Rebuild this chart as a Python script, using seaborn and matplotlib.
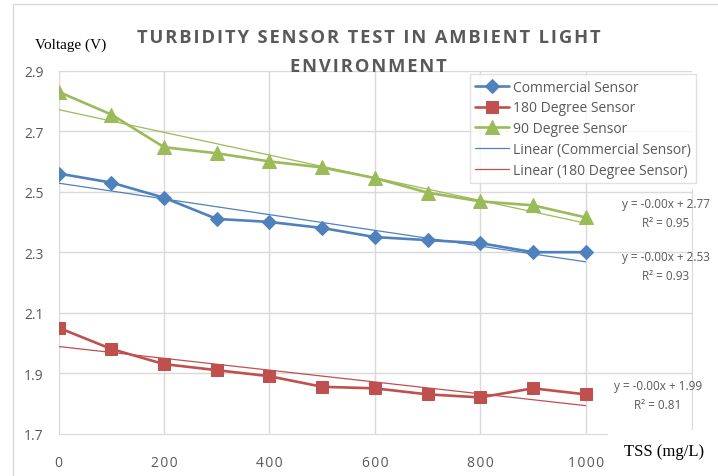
import numpy as np
import pandas as pd
import matplotlib
matplotlib.use("Agg")
import matplotlib.pyplot as plt
import seaborn as sns
from matplotlib.lines import Line2D

# Data
tss = [0, 100, 200, 300, 400, 500, 600, 700, 800, 900, 1000]
commercial = [2.56, 2.53, 2.48, 2.41, 2.40, 2.38, 2.35, 2.34, 2.33, 2.30, 2.30]
deg180 = [2.05, 1.98, 1.93, 1.91, 1.89, 1.855, 1.85, 1.83, 1.82, 1.85, 1.83]
deg90 = [2.83, 2.755, 2.647, 2.627, 2.60, 2.58, 2.545, 2.497, 2.468, 2.455, 2.415]
yticks = [1.7, 1.9, 2.1, 2.3, 2.5, 2.7, 2.9]
xticks = [0, 200, 400, 600, 800, 1000]
eq_texts = ["y = -0.00x + 2.77\nR² = 0.95", "y = -0.00x + 2.53\nR² = 0.93", "y = -0.00x + 1.99\nR² = 0.81"]

blue, red, green = "#4F81BD", "#C0504D", "#9BBB59"
grey_txt = "#595959"
grid_c = "#D9D9D9"

sns.set_style("white")
plt.rcParams['font.family'] = ['Open Sans', 'DejaVu Sans']


def spaced(s, gap="\u200a"):
    # widen letter spacing like the original title
    return gap.join(s)


fig = plt.figure(figsize=(7.18, 4.77), dpi=100)
ax = fig.add_axes([0.0818, 0.0887, 0.882, 0.761])

df = pd.DataFrame({"TSS": tss, "Commercial": commercial, "Deg180": deg180, "Deg90": deg90})

# trendlines first so data lines are drawn over them
for col, c, lab in [("Commercial", blue, "Linear (Commercial Sensor)"),
                    ("Deg180", red, "Linear (180 Degree Sensor)"),
                    ("Deg90", green, None)]:
    m, b = np.polyfit(df["TSS"], df[col], 1)
    ax.plot(df["TSS"], m * df["TSS"] + b, color=c, lw=0.9, label=lab, zorder=3)

sns.lineplot(data=df, x="TSS", y="Commercial", ax=ax, color=blue, marker="D",
             markersize=7, markeredgecolor=blue, lw=1.9, label="Commercial Sensor", zorder=4)
sns.lineplot(data=df, x="TSS", y="Deg180", ax=ax, color=red, marker="s",
             markersize=8.5, markeredgecolor=red, lw=1.9, label="180 Degree Sensor", zorder=4)
sns.lineplot(data=df, x="TSS", y="Deg90", ax=ax, color=green, marker="^",
             markersize=9.5, markeredgecolor=green, lw=1.9, label="90 Degree Sensor", zorder=4)

ax.set_xlim(0, 1202)
ax.set_ylim(1.7, 2.9)
ax.set_xticks(xticks)
ax.set_xticklabels([spaced(str(x)) for x in xticks])
ax.set_yticks(yticks)
ax.set_yticklabels([f"{y:.1f}" for y in yticks])
ax.set_xlabel("")
ax.set_ylabel("")
ax.tick_params(axis="x", length=0, pad=15, labelsize=10, colors=grey_txt)
ax.tick_params(axis="y", length=0, pad=11, labelsize=10, colors=grey_txt)
ax.grid(True, color=grid_c, lw=1)
ax.yaxis.get_gridlines()[0].set_visible(False)

for s in ["top", "left"]:
    ax.spines[s].set_visible(False)
ax.spines["bottom"].set_color(grid_c)
ax.spines["bottom"].set_bounds(0, 1040)
ax.spines["right"].set_color(grid_c)
ax.spines["right"].set_bounds(1.716, 2.51)

# legend
handles, labels = ax.get_legend_handles_labels()
order = ["Commercial Sensor", "180 Degree Sensor", "90 Degree Sensor",
         "Linear (Commercial Sensor)", "Linear (180 Degree Sensor)"]
hmap = dict(zip(labels, handles))
leg = ax.legend([hmap[k] for k in order], order, loc="upper left",
                bbox_to_anchor=(0.638, 1.01), frameon=True, fancybox=False,
                fontsize=10, labelcolor=grey_txt, handlelength=2.4,
                handletextpad=0.3, borderpad=0.4, labelspacing=0.42)
leg.get_frame().set_edgecolor(grid_c)
leg.get_frame().set_linewidth(1)
leg.set_zorder(6)

# trendline equations
for (px, py), t in zip([(666, 214), (666, 267), (658, 396)], eq_texts):
    fig.text(px / 718, 1 - py / 477, t, ha="center", va="center", fontsize=8.5,
             color=grey_txt, linespacing=1.55)

# titles and axis labels
fig.text(369 / 718, 1 - 38 / 477, spaced("TURBIDITY SENSOR TEST IN AMBIENT LIGHT"),
         ha="center", va="center", fontsize=13.2, fontweight="bold", color=grey_txt)
fig.text(368 / 718, 1 - 67 / 477, spaced("ENVIRONMENT"), ha="center", va="center",
         fontsize=13.2, fontweight="bold", color=grey_txt, zorder=7)
fig.text(35 / 718, 1 - 45 / 477, "Voltage (V)", ha="left", va="center",
         fontsize=11, family="Liberation Serif", color="black")
fig.text(664 / 718, 1 - 452 / 477, "TSS (mg/L)", ha="center", va="center",
         fontsize=12, family="Liberation Serif", color="black")

# chart area border pieces
fig.add_artist(Line2D([13 / 718, 13 / 718], [0, 1 - 5 / 477], color=grid_c, lw=1))
fig.add_artist(Line2D([13 / 718, 1], [1 - 5 / 477, 1 - 5 / 477], color=grid_c, lw=1))

fig.savefig("out.png", dpi=100)
